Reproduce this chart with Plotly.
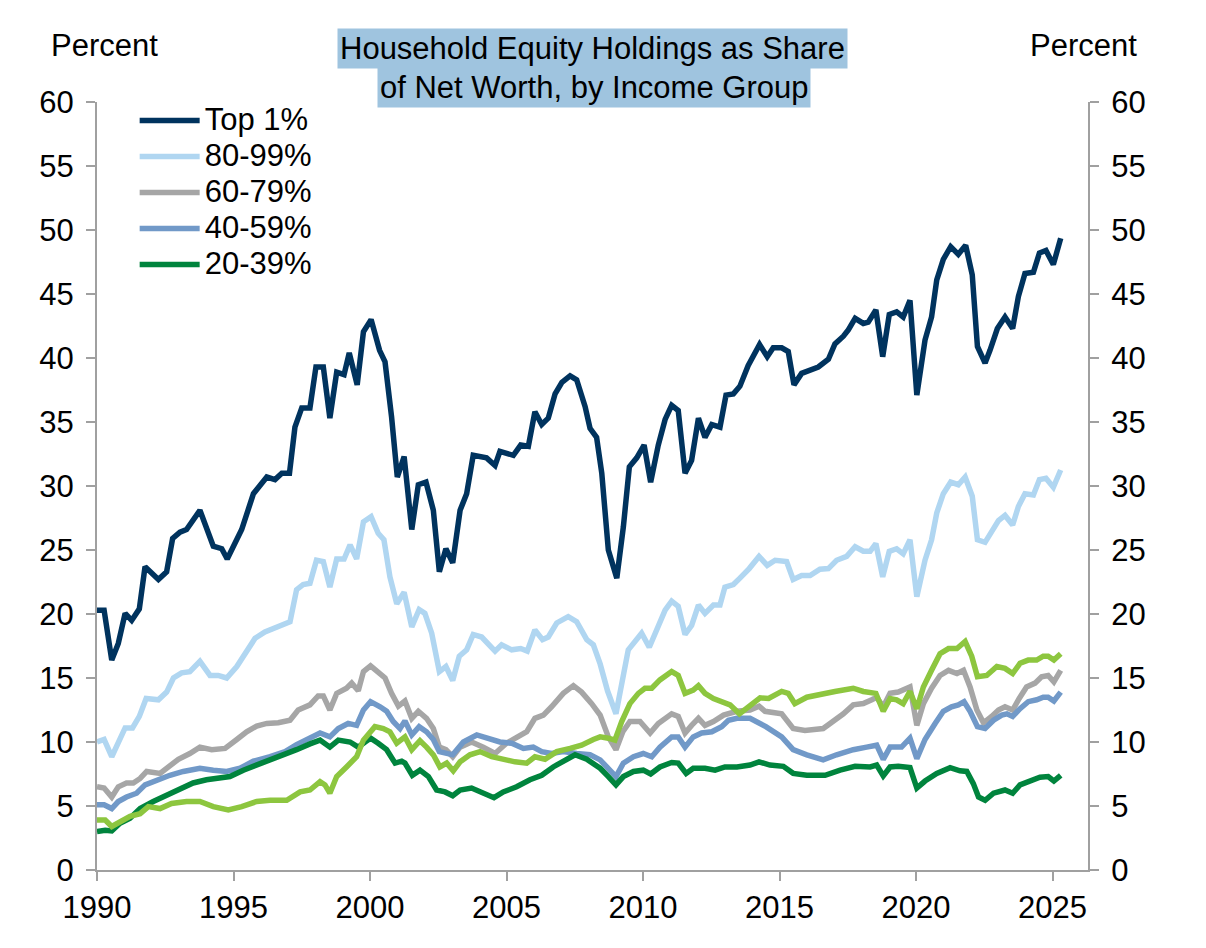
import plotly.graph_objects as go

# ---- data (decimal years, percent) ----
top1_x = [1990.0, 1990.26, 1990.54, 1990.78, 1991.03, 1991.27, 1991.55, 1991.76, 1992.25, 1992.55, 1992.77, 1993.04, 1993.28, 1993.77, 1994.26, 1994.57, 1994.77, 1995.3, 1995.73, 1996.22, 1996.52, 1996.77, 1997.05, 1997.25, 1997.5, 1997.8, 1998.02, 1998.29, 1998.53, 1998.78, 1999.05, 1999.24, 1999.53, 1999.76, 2000.04, 2000.35, 2000.55, 2000.79, 2001.0, 2001.25, 2001.53, 2001.77, 2002.05, 2002.32, 2002.54, 2002.78, 2003.03, 2003.3, 2003.54, 2003.78, 2004.27, 2004.58, 2004.76, 2005.25, 2005.52, 2005.8, 2006.04, 2006.29, 2006.53, 2006.78, 2007.03, 2007.33, 2007.57, 2007.88, 2008.06, 2008.3, 2008.49, 2008.73, 2009.04, 2009.28, 2009.5, 2009.77, 2010.04, 2010.28, 2010.56, 2010.81, 2011.05, 2011.29, 2011.54, 2011.78, 2012.03, 2012.27, 2012.52, 2012.82, 2013.04, 2013.31, 2013.55, 2013.85, 2014.27, 2014.55, 2014.77, 2015.08, 2015.32, 2015.53, 2015.81, 2016.12, 2016.42, 2016.79, 2017.03, 2017.34, 2017.52, 2017.77, 2018.07, 2018.25, 2018.53, 2018.78, 2019.02, 2019.29, 2019.53, 2019.78, 2020.03, 2020.33, 2020.57, 2020.76, 2021.0, 2021.27, 2021.55, 2021.82, 2022.06, 2022.25, 2022.53, 2022.71, 2022.98, 2023.26, 2023.54, 2023.75, 2023.99, 2024.3, 2024.52, 2024.76, 2025.03, 2025.3]
top1_y = [20.3, 20.3, 16.4, 17.7, 20.05, 19.5, 20.4, 23.7, 22.7, 23.3, 25.9, 26.4, 26.6, 28.1, 25.3, 25.1, 24.3, 26.6, 29.4, 30.7, 30.5, 31.0, 31.0, 34.6, 36.1, 36.1, 39.3, 39.3, 35.3, 38.9, 38.7, 40.4, 37.9, 42.05, 43.0, 40.6, 39.7, 35.4, 30.7, 32.3, 26.6, 30.1, 30.3, 28.1, 23.3, 25.1, 24.0, 28.1, 29.4, 32.4, 32.2, 31.6, 32.7, 32.4, 33.2, 33.1, 35.8, 34.8, 35.3, 37.2, 38.1, 38.6, 38.3, 36.2, 34.5, 33.8, 31.0, 25.0, 22.8, 26.8, 31.5, 32.2, 33.2, 30.3, 33.2, 35.2, 36.3, 35.9, 31.0, 32.0, 35.3, 33.8, 34.8, 34.6, 37.1, 37.2, 37.8, 39.4, 41.05, 40.1, 40.8, 40.8, 40.5, 37.9, 38.8, 39.0, 39.3, 39.9, 41.1, 41.7, 42.2, 43.1, 42.7, 42.8, 43.75, 40.1, 43.4, 43.6, 43.2, 44.5, 37.1, 41.4, 43.2, 46.1, 47.7, 48.7, 48.1, 48.8, 46.5, 40.9, 39.6, 40.6, 42.3, 43.2, 42.3, 44.8, 46.6, 46.7, 48.2, 48.4, 47.3, 49.35]

p80_x = [1990.0, 1990.26, 1990.54, 1990.78, 1991.03, 1991.3, 1991.55, 1991.8, 1992.25, 1992.55, 1992.8, 1993.1, 1993.4, 1993.77, 1994.14, 1994.44, 1994.75, 1995.12, 1995.42, 1995.79, 1996.15, 1996.46, 1996.77, 1997.07, 1997.31, 1997.55, 1997.8, 1998.04, 1998.29, 1998.53, 1998.78, 1999.05, 1999.27, 1999.51, 1999.76, 2000.04, 2000.3, 2000.51, 2000.73, 2000.98, 2001.25, 2001.53, 2001.8, 2002.01, 2002.26, 2002.54, 2002.78, 2003.03, 2003.27, 2003.54, 2003.78, 2004.09, 2004.58, 2004.82, 2005.19, 2005.52, 2005.76, 2006.04, 2006.32, 2006.53, 2006.84, 2007.26, 2007.57, 2007.94, 2008.18, 2008.43, 2008.7, 2009.01, 2009.46, 2009.95, 2010.23, 2010.56, 2010.81, 2011.05, 2011.29, 2011.54, 2011.78, 2012.03, 2012.27, 2012.58, 2012.82, 2013.0, 2013.31, 2013.55, 2013.89, 2014.25, 2014.55, 2014.84, 2015.26, 2015.5, 2015.81, 2016.12, 2016.48, 2016.79, 2017.09, 2017.46, 2017.77, 2018.07, 2018.32, 2018.53, 2018.78, 2019.02, 2019.29, 2019.53, 2019.78, 2020.03, 2020.33, 2020.57, 2020.76, 2021.0, 2021.27, 2021.55, 2021.8, 2022.06, 2022.25, 2022.53, 2022.77, 2023.02, 2023.26, 2023.54, 2023.75, 2023.99, 2024.3, 2024.52, 2024.76, 2025.03, 2025.3]
p80_y = [10.0, 10.2, 8.85, 9.9, 11.1, 11.1, 12.0, 13.4, 13.3, 13.9, 15.0, 15.4, 15.5, 16.3, 15.2, 15.2, 15.0, 15.9, 16.9, 18.1, 18.6, 18.9, 19.1, 19.4, 21.9, 22.3, 22.4, 24.2, 24.1, 22.1, 24.3, 24.3, 25.4, 24.3, 27.2, 27.6, 26.3, 25.8, 22.9, 20.8, 21.7, 19.0, 20.35, 20.05, 18.5, 15.5, 15.9, 14.8, 16.7, 17.2, 18.4, 18.2, 17.1, 17.6, 17.2, 17.3, 17.1, 18.75, 18.0, 18.2, 19.3, 19.8, 19.4, 18.0, 17.6, 16.1, 14.0, 12.2, 17.2, 18.5, 17.4, 19.1, 20.3, 21.0, 20.6, 18.4, 19.1, 20.7, 20.05, 20.7, 20.7, 22.1, 22.3, 22.8, 23.55, 24.5, 23.8, 24.2, 24.1, 22.7, 23.0, 23.0, 23.5, 23.55, 24.2, 24.5, 25.25, 24.9, 24.9, 25.5, 22.9, 24.9, 25.1, 24.7, 25.8, 21.35, 24.2, 25.8, 27.9, 29.4, 30.3, 30.1, 30.7, 29.2, 25.8, 25.6, 26.4, 27.3, 27.7, 26.95, 28.4, 29.4, 29.3, 30.5, 30.6, 29.9, 31.25]

p60_x = [1990.0, 1990.26, 1990.54, 1990.78, 1991.08, 1991.33, 1991.58, 1991.82, 1992.31, 1992.67, 1992.98, 1993.4, 1993.77, 1994.2, 1994.69, 1995.12, 1995.48, 1995.85, 1996.22, 1996.64, 1997.07, 1997.37, 1997.8, 1998.1, 1998.29, 1998.53, 1998.78, 1999.14, 1999.33, 1999.57, 1999.76, 2000.02, 2000.24, 2000.55, 2000.79, 2001.04, 2001.28, 2001.53, 2001.77, 2002.07, 2002.32, 2002.54, 2002.78, 2003.03, 2003.3, 2003.72, 2004.15, 2004.58, 2005.0, 2005.37, 2005.74, 2006.04, 2006.35, 2006.65, 2007.08, 2007.45, 2007.75, 2008.12, 2008.43, 2008.73, 2009.01, 2009.26, 2009.52, 2009.89, 2010.26, 2010.56, 2011.05, 2011.29, 2011.54, 2011.78, 2012.03, 2012.27, 2012.58, 2012.95, 2013.44, 2013.92, 2014.25, 2014.47, 2015.08, 2015.5, 2015.93, 2016.6, 2017.03, 2017.34, 2017.7, 2018.07, 2018.38, 2018.56, 2018.8, 2019.05, 2019.35, 2019.53, 2019.78, 2020.03, 2020.27, 2020.57, 2020.88, 2021.19, 2021.5, 2021.74, 2021.98, 2022.23, 2022.47, 2022.77, 2023.02, 2023.26, 2023.54, 2023.78, 2024.05, 2024.36, 2024.6, 2024.84, 2025.05, 2025.3]
p60_y = [6.5, 6.4, 5.7, 6.5, 6.8, 6.8, 7.15, 7.7, 7.55, 8.1, 8.65, 9.1, 9.6, 9.4, 9.5, 10.2, 10.8, 11.25, 11.45, 11.5, 11.7, 12.5, 12.9, 13.6, 13.6, 12.5, 13.8, 14.2, 14.6, 14.0, 15.5, 15.95, 15.5, 15.0, 13.8, 12.8, 13.2, 11.85, 12.4, 11.85, 11.05, 9.6, 9.4, 8.85, 9.6, 10.0, 9.6, 9.1, 9.9, 10.4, 10.8, 11.85, 12.1, 12.75, 13.8, 14.4, 13.9, 13.0, 12.1, 10.4, 9.4, 10.8, 11.6, 11.6, 10.7, 11.45, 12.2, 12.0, 10.7, 11.3, 11.85, 11.3, 11.6, 12.1, 12.4, 12.5, 12.8, 12.4, 12.2, 11.05, 10.9, 11.05, 11.7, 12.2, 12.9, 13.0, 13.3, 13.5, 12.75, 13.8, 13.9, 14.05, 14.3, 11.3, 13.0, 14.2, 15.2, 15.6, 15.35, 15.6, 14.3, 12.5, 11.5, 12.0, 12.5, 12.75, 12.5, 13.4, 14.3, 14.6, 15.1, 15.2, 14.7, 15.6]

p40_x = [1990.0, 1990.26, 1990.54, 1990.78, 1991.08, 1991.45, 1991.76, 1992.18, 1992.67, 1993.16, 1993.77, 1994.26, 1994.75, 1995.24, 1995.73, 1996.34, 1996.89, 1997.31, 1997.74, 1998.17, 1998.53, 1998.84, 1999.2, 1999.51, 1999.76, 2000.02, 2000.37, 2000.61, 2000.85, 2001.1, 2001.28, 2001.53, 2001.8, 2002.07, 2002.32, 2002.54, 2003.03, 2003.42, 2003.91, 2004.33, 2004.76, 2005.19, 2005.62, 2005.98, 2006.29, 2006.65, 2007.08, 2007.57, 2008.06, 2008.43, 2008.73, 2009.01, 2009.28, 2009.65, 2010.01, 2010.32, 2010.62, 2011.05, 2011.29, 2011.54, 2011.84, 2012.15, 2012.52, 2012.88, 2013.13, 2013.44, 2013.92, 2014.29, 2014.5, 2015.08, 2015.5, 2016.0, 2016.6, 2017.09, 2017.7, 2018.19, 2018.56, 2018.8, 2019.05, 2019.47, 2019.78, 2020.03, 2020.33, 2020.7, 2021.0, 2021.3, 2021.55, 2021.76, 2021.98, 2022.25, 2022.53, 2022.84, 2023.14, 2023.33, 2023.54, 2023.81, 2024.11, 2024.42, 2024.66, 2024.84, 2025.05, 2025.3]
p40_y = [5.1, 5.1, 4.8, 5.35, 5.7, 6.0, 6.65, 7.0, 7.4, 7.7, 7.95, 7.8, 7.7, 7.95, 8.5, 8.85, 9.25, 9.8, 10.2, 10.7, 10.4, 11.05, 11.45, 11.3, 12.5, 13.15, 12.75, 12.4, 11.6, 11.05, 11.65, 10.55, 11.2, 10.8, 10.2, 9.25, 9.0, 10.0, 10.55, 10.3, 10.0, 9.9, 9.5, 9.6, 9.25, 9.1, 9.25, 9.1, 9.0, 8.6, 7.95, 7.3, 8.35, 8.85, 9.1, 8.85, 9.6, 10.4, 10.4, 9.6, 10.4, 10.7, 10.8, 11.2, 11.7, 11.85, 11.85, 11.5, 11.2, 10.4, 9.4, 9.0, 8.6, 9.0, 9.4, 9.6, 9.75, 8.65, 9.6, 9.6, 10.3, 8.7, 10.2, 11.45, 12.4, 12.75, 12.9, 13.15, 12.4, 11.2, 11.05, 11.7, 12.1, 12.2, 12.0, 12.6, 13.15, 13.3, 13.5, 13.5, 13.2, 13.9]

p20_x = [1990.0, 1990.3, 1990.54, 1990.84, 1991.21, 1991.58, 1992.06, 1992.55, 1993.04, 1993.52, 1994.01, 1994.51, 1994.87, 1995.36, 1995.85, 1996.34, 1996.82, 1997.31, 1997.8, 1998.17, 1998.53, 1998.84, 1999.27, 1999.57, 1999.82, 2000.02, 2000.3, 2000.61, 2000.92, 2001.16, 2001.28, 2001.55, 2001.83, 2002.14, 2002.44, 2002.75, 2003.03, 2003.3, 2003.72, 2004.15, 2004.54, 2004.88, 2005.37, 2005.86, 2006.29, 2006.71, 2007.2, 2007.51, 2007.94, 2008.43, 2008.73, 2009.01, 2009.28, 2009.65, 2010.01, 2010.28, 2010.62, 2011.05, 2011.29, 2011.58, 2011.84, 2012.27, 2012.64, 2013.0, 2013.44, 2013.92, 2014.25, 2014.65, 2015.14, 2015.5, 2016.0, 2016.67, 2017.22, 2017.77, 2018.32, 2018.56, 2018.8, 2019.05, 2019.35, 2019.78, 2020.03, 2020.33, 2020.76, 2021.25, 2021.61, 2021.86, 2022.1, 2022.29, 2022.53, 2022.84, 2023.26, 2023.54, 2023.81, 2024.18, 2024.54, 2024.84, 2025.05, 2025.3]
p20_y = [3.0, 3.1, 3.05, 3.65, 4.05, 4.8, 5.35, 5.85, 6.4, 6.8, 7.05, 7.15, 7.3, 7.8, 8.2, 8.55, 8.9, 9.4, 9.85, 10.15, 9.6, 10.15, 10.0, 9.6, 10.0, 10.3, 9.9, 9.4, 8.35, 8.5, 8.35, 7.4, 7.8, 7.3, 6.25, 6.1, 5.8, 6.25, 6.4, 6.05, 5.65, 6.1, 6.5, 7.05, 7.4, 8.05, 8.7, 9.0, 8.65, 7.95, 7.3, 6.65, 7.3, 7.7, 7.8, 7.5, 8.05, 8.4, 8.35, 7.55, 7.95, 7.95, 7.8, 8.05, 8.05, 8.2, 8.45, 8.2, 8.1, 7.55, 7.4, 7.4, 7.8, 8.1, 8.05, 8.2, 7.35, 8.05, 8.1, 8.0, 6.4, 6.95, 7.55, 8.0, 7.75, 7.7, 6.75, 5.7, 5.45, 6.0, 6.25, 6.0, 6.65, 6.9, 7.25, 7.3, 6.95, 7.4]

p0_x = [1990.0, 1990.3, 1990.54, 1990.84, 1991.21, 1991.58, 1991.88, 1992.31, 1992.73, 1993.28, 1993.77, 1994.26, 1994.81, 1995.3, 1995.85, 1996.34, 1996.95, 1997.44, 1997.8, 1998.17, 1998.35, 1998.53, 1998.78, 1999.14, 1999.51, 1999.76, 2000.0, 2000.18, 2000.49, 2000.73, 2000.98, 2001.28, 2001.53, 2001.83, 2002.07, 2002.32, 2002.56, 2002.81, 2003.05, 2003.3, 2003.66, 2004.03, 2004.46, 2004.88, 2005.31, 2005.74, 2006.04, 2006.41, 2006.84, 2007.33, 2007.75, 2008.18, 2008.43, 2008.73, 2008.97, 2009.22, 2009.52, 2009.83, 2010.07, 2010.32, 2010.62, 2011.05, 2011.29, 2011.54, 2011.84, 2012.03, 2012.27, 2012.58, 2012.88, 2013.19, 2013.53, 2013.92, 2014.29, 2014.6, 2015.08, 2015.32, 2015.56, 2016.0, 2016.6, 2017.03, 2017.7, 2018.07, 2018.53, 2018.8, 2019.05, 2019.29, 2019.53, 2019.78, 2020.03, 2020.27, 2020.57, 2020.88, 2021.19, 2021.5, 2021.8, 2022.04, 2022.25, 2022.59, 2022.96, 2023.26, 2023.54, 2023.81, 2024.11, 2024.42, 2024.66, 2024.84, 2025.05, 2025.3]
p0_y = [3.9, 3.9, 3.4, 3.8, 4.2, 4.4, 4.95, 4.8, 5.2, 5.35, 5.35, 4.95, 4.7, 4.95, 5.35, 5.45, 5.45, 6.1, 6.25, 6.9, 6.65, 6.0, 7.3, 8.05, 8.85, 10.15, 10.8, 11.2, 11.05, 10.8, 9.9, 10.4, 9.4, 10.1, 9.6, 9.0, 8.05, 8.35, 7.75, 8.45, 9.0, 9.25, 8.85, 8.6, 8.45, 8.35, 8.85, 8.65, 9.25, 9.5, 9.75, 10.2, 10.4, 10.3, 10.15, 11.6, 13.0, 13.8, 14.2, 14.2, 14.85, 15.5, 15.2, 13.8, 14.05, 14.4, 13.8, 13.4, 13.15, 12.9, 12.2, 12.8, 13.45, 13.4, 13.95, 13.8, 13.0, 13.5, 13.7, 13.95, 14.2, 13.95, 13.8, 12.4, 13.4, 13.3, 13.0, 13.95, 12.6, 14.3, 15.6, 16.9, 17.3, 17.3, 17.85, 16.7, 15.1, 15.2, 15.9, 15.75, 15.35, 16.15, 16.4, 16.4, 16.7, 16.7, 16.4, 16.9]

series_names = ["Top 1%", "80-99%", "60-79%", "40-59%", "20-39%", "0-19%"]
series_colors = ["#00335E", "#B0D6F1", "#A6A6A6", "#7199C8", "#00843D", "#8DC63F"]
x_ticks = [1990, 1995, 2000, 2005, 2010, 2015, 2020, 2025]
y_ticks = [0, 5, 10, 15, 20, 25, 30, 35, 40, 45, 50, 55, 60]

FONT = "Liberation Sans, Arial, sans-serif"
FS = 31
AXIS_C = "#A0A0A0"

xs = [top1_x, p80_x, p60_x, p40_x, p20_x, p0_x]
ys = [top1_y, p80_y, p60_y, p40_y, p20_y, p0_y]

fig = go.Figure()
for i, (nm, col) in enumerate(zip(series_names, series_colors)):
    fig.add_trace(go.Scatter(
        x=xs[i], y=ys[i], mode="lines",
        name=f'<span style="font-size:{FS}px">{nm}</span>',
        line=dict(color=col, width=5.5),
        showlegend=(i < 5), legendgroup=nm,
    ))

# page body has an 8px default margin; the figure is sized to sit inside it
fig.update_layout(
    width=1198, height=940,
    margin=dict(l=89, r=118, t=94, b=78),
    paper_bgcolor="white", plot_bgcolor="white",
    font=dict(family=FONT, size=FS, color="black"),
    showlegend=True,
    legend=dict(x=0.038, y=1.006, xanchor="left", yanchor="top",
                bgcolor="rgba(0,0,0,0)", borderwidth=0,
                font=dict(size=25.4, family=FONT, color="black"),
                tracegroupgap=0, itemwidth=60),
    xaxis=dict(range=[1990, 2026.3], tickmode="array", tickvals=x_ticks,
               ticktext=[str(t) for t in x_ticks],
               showgrid=False, zeroline=False, showline=True, linecolor=AXIS_C,
               linewidth=2, ticks="outside", ticklen=9, tickwidth=2, tickcolor=AXIS_C,
               tickfont=dict(size=FS, family=FONT, color="black")),
    yaxis=dict(range=[0, 60], tickmode="array", tickvals=y_ticks,
               showgrid=False, zeroline=False, showline=True, linecolor=AXIS_C,
               linewidth=2, ticks="outside", ticklen=9, tickwidth=2, tickcolor=AXIS_C,
               ticklabelstandoff=6,
               tickfont=dict(size=FS, family=FONT, color="black")),
    yaxis2=dict(range=[0, 60], tickmode="array", tickvals=y_ticks,
                overlaying="y", side="right", anchor="x",
                showgrid=False, zeroline=False, showline=True, linecolor=AXIS_C,
                linewidth=2, ticks="outside", ticklen=9, tickwidth=2, tickcolor=AXIS_C,
                ticklabelstandoff=6,
                tickfont=dict(size=FS, family=FONT, color="black")),
)

# invisible trace so the right axis is drawn
fig.add_trace(go.Scatter(x=[1990], y=[0], yaxis="y2", mode="markers",
                         marker=dict(opacity=0), showlegend=False, hoverinfo="skip"))

TITLE_BG = "#9FC4DF"
fig.add_annotation(text="Household Equity Holdings as Share", xref="paper", yref="paper",
                   x=(592 - 97) / 991, y=(870 - 48) / 768, xanchor="center", yanchor="middle",
                   showarrow=False, bgcolor=TITLE_BG, borderpad=2,
                   font=dict(size=FS, family=FONT, color="black"))
fig.add_annotation(text="of Net Worth, by Income Group", xref="paper", yref="paper",
                   x=(594 - 97) / 991, y=(870 - 87) / 768, xanchor="center", yanchor="middle",
                   showarrow=False, bgcolor=TITLE_BG, borderpad=2,
                   font=dict(size=FS, family=FONT, color="black"))
fig.add_annotation(text="Percent", xref="paper", yref="paper",
                   x=(104 - 97) / 991, y=(870 - 45) / 768, xanchor="center", yanchor="middle",
                   showarrow=False, font=dict(size=FS, family=FONT, color="black"))
fig.add_annotation(text="Percent", xref="paper", yref="paper",
                   x=(1083 - 97) / 991, y=(870 - 45) / 768, xanchor="center", yanchor="middle",
                   showarrow=False, font=dict(size=FS, family=FONT, color="black"))

fig.write_html("out.html")
